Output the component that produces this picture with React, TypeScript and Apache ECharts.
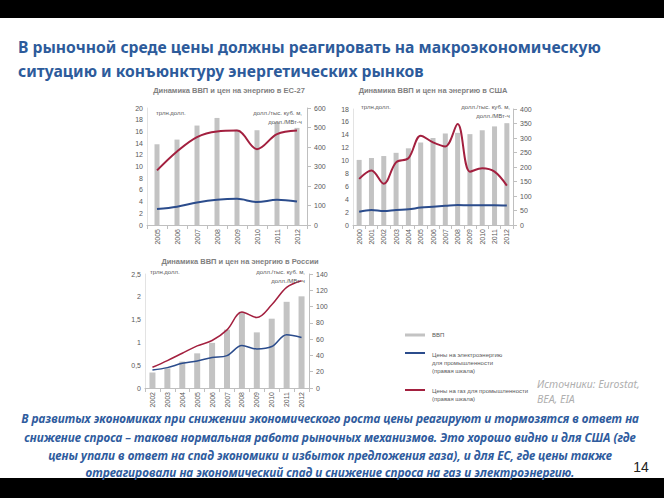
import React, { useEffect, useRef } from "react";
import * as echarts from "echarts";

const euYears = ["2005", "2006", "2007", "2008", "2009", "2010", "2011", "2012"];
const euGdp = [13.8, 14.6, 17.0, 18.3, 16.3, 16.2, 17.6, 16.6];
const euGas = [280, 377, 451, 480, 484, 389, 466, 484];
const euElec = [82, 94, 115, 129, 134, 118, 129, 120];

const usYears = ["2000", "2001", "2002", "2003", "2004", "2005", "2006", "2007", "2008", "2009", "2010", "2011", "2012"];
const usGdp = [10.1, 10.4, 10.7, 11.2, 11.9, 12.8, 13.5, 14.2, 14.3, 14.1, 14.7, 15.3, 15.8];
const usGas = [159, 188, 142, 216, 230, 308, 285, 271, 348, 184, 196, 184, 136];
const usElec = [46, 52, 48, 52, 54, 60, 63, 66, 69, 68, 68, 68, 67];

const ruYears = ["2002", "2003", "2004", "2005", "2006", "2007", "2008", "2009", "2010", "2011", "2012"];
const ruGdp = [0.34, 0.43, 0.58, 0.76, 0.99, 1.28, 1.67, 1.22, 1.52, 1.89, 2.01];
const ruGas = [25.5, 33.7, 42.7, 51.7, 58.3, 71.4, 93.2, 86.6, 102.2, 123.6, 131.8];
const ruElec = [22.2, 25, 30.4, 33.2, 37.4, 39.8, 52.1, 48, 50.9, 65.3, 62];

const titleLines = [
  "В рыночной среде цены должны реагировать на макроэкономическую",
  "ситуацию и конъюнктуру энергетических рынков",
];
const chartTitles = [
  "Динамика ВВП и цен на энергию в ЕС-27",
  "Динамика ВВП и цен на энергию в США",
  "Динамика ВВП и цен на энергию в России",
];
const unitLeft = "трлн.долл.";
const unitRight1 = "долл./тыс. куб. м,";
const unitRight2 = "долл./МВт-ч";
const legendGdp = "ВВП";
const legendElec = ["Цены на электроэнергию", "для промышленности", "(правая шкала)"];
const legendGas = ["Цены на газ для промышленности", "(правая шкала)"];
const sources = ["Источники: Eurostat,", "BEA, EIA"];
const bottomLines = [
  "В развитых экономиках при снижении экономического роста цены реагируют и тормозятся в ответ на",
  "снижение спроса – такова нормальная работа рыночных механизмов. Это хорошо видно и для США (где",
  "цены упали в ответ на спад экономики и избыток предложения газа), и для ЕС, где цены также",
  "отреагировали на экономический спад и снижение спроса на газ и электроэнергию.",
];
const pageNumber = "14";

const GRAY_BAR = "#C3C3C3";
const RED = "#A3203F";
const BLUE = "#2B4C8C";
const AXIS_TXT = "#595959";
const SMALL_FONT = "Liberation Sans, Arial, sans-serif";

function App() {
  const ref = useRef<HTMLDivElement>(null);

  useEffect(() => {
    if (!ref.current) return;
    const chart = echarts.init(ref.current, undefined, { renderer: "svg" });

    const xAxisBase = (gridIndex: number, data: string[]) => ({
      type: "category",
      gridIndex,
      data,
      boundaryGap: true,
      axisLine: { show: true, lineStyle: { color: "#BFBFBF", width: 1 } },
      axisTick: { show: true, length: 4, interval: 0, lineStyle: { color: "#BFBFBF" } },
      axisLabel: {
        rotate: 90,
        interval: 0,
        fontSize: 7,
        color: AXIS_TXT,
        fontFamily: SMALL_FONT,
        margin: 4,
      },
      splitLine: { show: false },
    });

    const leftY = (gridIndex: number, max: number, interval: number, fmt?: (v: number) => string) => ({
      type: "value",
      gridIndex,
      position: "left",
      min: 0,
      max,
      interval,
      axisLine: { show: true, lineStyle: { color: "#E3E3E3", width: 1 } },
      axisTick: { show: false },
      splitLine: { show: false },
      axisLabel: {
        fontSize: 7,
        color: AXIS_TXT,
        fontFamily: SMALL_FONT,
        margin: 4,
        formatter: fmt ? fmt : (v: number) => String(v),
      },
    });

    const rightY = (gridIndex: number, max: number, interval: number) => ({
      type: "value",
      gridIndex,
      position: "right",
      min: 0,
      max,
      interval,
      axisLine: { show: true, lineStyle: { color: "#BFBFBF", width: 1 } },
      axisTick: { show: true, length: 4, lineStyle: { color: "#BFBFBF" } },
      splitLine: { show: false },
      axisLabel: {
        fontSize: 7,
        color: AXIS_TXT,
        fontFamily: SMALL_FONT,
        margin: 7,
      },
    });

    const bar = (xi: number, yi: number, data: number[], w: number) => ({
      type: "bar",
      xAxisIndex: xi,
      yAxisIndex: yi,
      data,
      barWidth: w,
      itemStyle: { color: GRAY_BAR },
      z: 1,
    });
    const line = (xi: number, yi: number, data: number[], color: string, w: number) => ({
      type: "line",
      xAxisIndex: xi,
      yAxisIndex: yi,
      data,
      smooth: 0.35,
      symbol: "none",
      lineStyle: { color, width: w },
      z: 3,
    });

    const txt = (
      x: number,
      y: number,
      text: string,
      opts: { size?: number; weight?: string | number; style?: string; family?: string; fill?: string; align?: string } = {}
    ) => ({
      type: "text",
      x,
      y,
      z: 10,
      style: {
        text,
        fill: opts.fill || AXIS_TXT,
        fontSize: opts.size || 7,
        fontWeight: opts.weight || "normal",
        fontStyle: opts.style || "normal",
        fontFamily: opts.family || SMALL_FONT,
        textAlign: opts.align || "left",
        align: opts.align || "left",
        textVerticalAlign: "middle",
        verticalAlign: "middle",
      },
    });

    const TITLE_FONT = "Noto Sans, Open Sans, sans-serif";
    const BODY_FONT = "Noto Sans, Open Sans, sans-serif";
    const TITLE_BLUE = "#2D5B9B";
    const BODY_BLUE = "#2F5C9E";
    const BODY_SIZE = 11.75;

    const graphics: any[] = [
      { type: "rect", shape: { x: 0, y: 0, width: 664, height: 18 }, style: { fill: "#000" }, z: 0 },
      { type: "rect", shape: { x: 0, y: 478, width: 664, height: 20 }, style: { fill: "#000" }, z: 0 },
      txt(18, 47, titleLines[0], { size: 15.7, weight: "bold", family: TITLE_FONT, fill: TITLE_BLUE }),
      txt(18, 71, titleLines[1], { size: 15.7, weight: "bold", family: TITLE_FONT, fill: TITLE_BLUE }),
      txt(229, 90, chartTitles[0], { size: 7.5, weight: "bold", fill: "#7F7F7F", align: "center" }),
      txt(433, 90, chartTitles[1], { size: 7.5, weight: "bold", fill: "#7F7F7F", align: "center" }),
      txt(240, 261, chartTitles[2], { size: 7.5, weight: "bold", fill: "#7F7F7F", align: "center" }),
      // EU units
      txt(156, 113, unitLeft, { size: 6 }),
      txt(302, 113, unitRight1, { size: 6, align: "right" }),
      txt(302, 122, unitRight2, { size: 6, align: "right" }),
      // US units
      txt(361, 107, unitLeft, { size: 6 }),
      txt(510, 107, unitRight1, { size: 6, align: "right" }),
      txt(510, 116, unitRight2, { size: 6, align: "right" }),
      // RU units
      txt(150, 272, unitLeft, { size: 6 }),
      txt(305, 272, unitRight1, { size: 6, align: "right" }),
      txt(305, 281, unitRight2, { size: 6, align: "right" }),
      // legend
      { type: "line", shape: { x1: 405, y1: 335, x2: 425, y2: 335 }, style: { stroke: GRAY_BAR, lineWidth: 3 }, z: 10 },
      txt(432, 335, legendGdp, { size: 6 }),
      { type: "line", shape: { x1: 405, y1: 353, x2: 425, y2: 353 }, style: { stroke: BLUE, lineWidth: 2 }, z: 10 },
      txt(432, 355, legendElec[0], { size: 6 }),
      txt(432, 363, legendElec[1], { size: 6 }),
      txt(432, 371, legendElec[2], { size: 6 }),
      { type: "line", shape: { x1: 405, y1: 390, x2: 425, y2: 390 }, style: { stroke: RED, lineWidth: 2 }, z: 10 },
      txt(432, 391, legendGas[0], { size: 6 }),
      txt(432, 399, legendGas[1], { size: 6 }),
      // sources
      txt(537, 384, sources[0], { size: 10.5, style: "italic", fill: "#AFAFAF", family: BODY_FONT }),
      txt(537, 399, sources[1], { size: 10.5, style: "italic", fill: "#AFAFAF", family: BODY_FONT }),
      // bottom text
      txt(330, 418, bottomLines[0], { size: BODY_SIZE, weight: "bold", style: "italic", fill: BODY_BLUE, family: BODY_FONT, align: "center" }),
      txt(330, 437, bottomLines[1], { size: BODY_SIZE, weight: "bold", style: "italic", fill: BODY_BLUE, family: BODY_FONT, align: "center" }),
      txt(330, 455, bottomLines[2], { size: BODY_SIZE, weight: "bold", style: "italic", fill: BODY_BLUE, family: BODY_FONT, align: "center" }),
      txt(330, 472, bottomLines[3], { size: BODY_SIZE, weight: "bold", style: "italic", fill: BODY_BLUE, family: BODY_FONT, align: "center" }),
      txt(641, 467, pageNumber, { size: 14, fill: "#222", family: SMALL_FONT, align: "center" }),
    ];

    chart.setOption({
      animation: false,
      backgroundColor: "#FFFFFF",
      grid: [
        { left: 147, top: 108, width: 160, height: 117 },
        { left: 353, top: 109, width: 160, height: 116 },
        { left: 145, top: 274, width: 164, height: 114 },
      ],
      xAxis: [xAxisBase(0, euYears), xAxisBase(1, usYears), xAxisBase(2, ruYears)],
      yAxis: [
        leftY(0, 20, 2),
        rightY(0, 600, 100),
        leftY(1, 18, 2),
        rightY(1, 400, 50),
        leftY(2, 2.5, 0.5, (v: number) => String(v).replace(".", ",")),
        rightY(2, 140, 20),
      ],
      series: [
        bar(0, 0, euGdp, 5),
        line(0, 1, euElec, BLUE, 2),
        line(0, 1, euGas, RED, 2),
        bar(1, 2, usGdp, 5),
        line(1, 3, usElec, BLUE, 2),
        line(1, 3, usGas, RED, 2),
        bar(2, 4, ruGdp, 6),
        line(2, 5, ruElec, BLUE, 1.5),
        line(2, 5, ruGas, RED, 1.5),
      ],
      graphic: graphics,
    });

    return () => chart.dispose();
  }, []);

  return (
    <div
      ref={ref}
      style={{ position: "fixed", left: 0, top: 0, width: 664, height: 498, background: "#fff" }}
    />
  );
}

export default App;
